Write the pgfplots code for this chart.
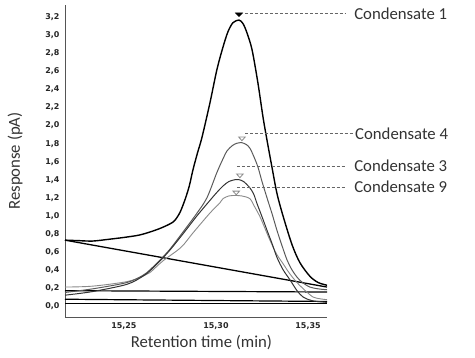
\documentclass[border=0pt]{standalone}
\usepackage{pgfplots}
\pgfplotsset{compat=1.18}
\usepackage{fontspec}
\setmainfont{Carlito}
\newfontfamily\tickfont{DejaVu Sans}
\definecolor{spine}{HTML}{555555}
\definecolor{cfour}{HTML}{5A5A5A}
\definecolor{cA}{HTML}{333333}
\definecolor{clight}{HTML}{8A8A8A}
\definecolor{leadc}{HTML}{666666}
\begin{document}
\begin{tikzpicture}
\path[use as bounding box] (-65bp,-41bp) rectangle (410bp,317bp);
\begin{axis}[
  scale only axis, width=262bp, height=312bp,
  xmin=15.218, xmax=15.3603, ymin=-0.122, ymax=3.337,
  axis x line*=bottom, axis y line*=left,
  axis line style={-, draw=spine, line width=1pt},
  major tick length=0pt,
  xtick={15.25,15.30,15.35},
  ytick={0,0.2,...,3.21},
  /pgf/number format/assume math mode=true,
  /pgf/number format/use comma,
  /pgf/number format/fixed,
  /pgf/number format/fixed zerofill,
  xticklabel style={/pgf/number format/precision=2, yshift=-2bp},
  yticklabel style={/pgf/number format/precision=1, xshift=-2bp},
  ticklabel style={font=\tickfont\bfseries\fontsize{8}{10}\selectfont, text=black!85},
  xlabel={Retention time (min)},
  ylabel={Response (pA)},
  label style={font=\fontsize{16.8}{19}\selectfont, text=black!80},
  xlabel style={at={(axis description cs:0.521,-0.0803)}, anchor=center},
  ylabel style={at={(axis description cs:-0.1908,0.5)}, anchor=center},
  clip=false,
]
% baselines
\addplot[black, line width=1.3pt] coordinates {(15.218,0.73) (15.3603,0.21)};
\addplot[black, line width=1.2pt] coordinates {(15.218,0.17) (15.3603,0.155)};
\addplot[black, line width=1.2pt] coordinates {(15.218,0.075) (15.3603,0.05)};
\addplot[black, line width=1.2pt] coordinates {(15.218,0.03) (15.3603,0.03)};
% light curve
\addplot[clight, line width=0.9pt, smooth] coordinates {
(15.218,0.21) (15.233,0.22) (15.2516,0.27) (15.2603,0.33) (15.2641,0.37) (15.2712,0.50) (15.281,0.65) (15.2875,0.81) (15.2967,1.03) (15.302,1.14) (15.3038,1.19) (15.307,1.22) (15.3103,1.225) (15.314,1.22) (15.3184,1.19) (15.321,1.10) (15.3239,0.99) (15.3266,0.86) (15.3293,0.73) (15.3328,0.58) (15.3364,0.47) (15.340,0.36) (15.344,0.26) (15.3485,0.17) (15.3527,0.10) (15.3565,0.08) (15.3603,0.07)};
% condensate 4
\addplot[cfour, line width=1pt, smooth] coordinates {
(15.218,0.15) (15.233,0.19) (15.2516,0.26) (15.2603,0.34) (15.2641,0.40) (15.2696,0.51) (15.275,0.63) (15.2821,0.82) (15.2897,1.03) (15.2951,1.20) (15.3005,1.48) (15.304,1.64) (15.306,1.72) (15.309,1.78) (15.3115,1.805) (15.3141,1.81) (15.3165,1.79) (15.3184,1.75) (15.3205,1.66) (15.3228,1.54) (15.325,1.38) (15.3277,1.20) (15.3305,1.02) (15.3331,0.84) (15.336,0.66) (15.3386,0.51) (15.341,0.41) (15.344,0.32) (15.347,0.26) (15.351,0.21) (15.3555,0.19) (15.3603,0.18)};
% dark curve
\addplot[cA, line width=1pt, smooth] coordinates {
(15.218,0.12) (15.233,0.16) (15.2516,0.24) (15.2603,0.33) (15.2641,0.39) (15.2696,0.50) (15.275,0.62) (15.2821,0.80) (15.2897,1.00) (15.2967,1.17) (15.3005,1.26) (15.3038,1.33) (15.307,1.38) (15.3103,1.40) (15.3125,1.40) (15.315,1.38) (15.3184,1.31) (15.3205,1.24) (15.3222,1.14) (15.325,0.99) (15.3277,0.84) (15.3305,0.69) (15.3331,0.54) (15.3365,0.40) (15.3402,0.29) (15.344,0.17) (15.3473,0.10) (15.352,0.06) (15.3603,0.04)};
% condensate 1
\addplot[black, line width=1.4pt, smooth] coordinates {
(15.218,0.73) (15.225,0.725) (15.233,0.72) (15.242,0.74) (15.250,0.76) (15.258,0.785) (15.2641,0.82) (15.2696,0.86) (15.275,0.91) (15.2777,0.95) (15.2805,1.04) (15.2832,1.18) (15.2855,1.33) (15.2875,1.51) (15.290,1.70) (15.2924,1.87) (15.2967,2.25) (15.3005,2.62) (15.3038,2.87) (15.3065,3.04) (15.3092,3.14) (15.3125,3.17) (15.3147,3.13) (15.3168,3.03) (15.3196,2.84) (15.3228,2.47) (15.3255,2.10) (15.3277,1.84) (15.3304,1.54) (15.3331,1.25) (15.3364,1.00) (15.3413,0.68) (15.3456,0.48) (15.351,0.33) (15.3555,0.26) (15.3603,0.23)};
% markers
\addplot[only marks, mark=triangle*, mark size=4.2pt, mark options={rotate=180, yscale=0.6, fill=black, draw=black}] coordinates {(15.3125,3.235)};
\addplot[only marks, mark=triangle, mark size=3.8pt, mark options={rotate=180, yscale=0.65, draw=clight, line width=0.8pt}] coordinates {(15.3141,1.86) (15.3130,1.45) (15.3110,1.26)};
% leader lines
\addplot[leadc, densely dashed, line width=0.6pt] coordinates {(15.3158,3.24) (15.370,3.24)};
\addplot[leadc, densely dashed, line width=0.6pt] coordinates {(15.3158,1.91) (15.3745,1.91)};
\addplot[leadc, densely dashed, line width=0.6pt] coordinates {(15.3114,1.55) (15.370,1.55)};
\addplot[leadc, densely dashed, line width=0.6pt] coordinates {(15.3114,1.32) (15.370,1.32)};
\node[anchor=west, inner sep=0pt, font=\fontsize{16.8}{19}\selectfont, text=black!80] at (axis cs:15.375,3.24) {Condensate 1};
\node[anchor=west, inner sep=0pt, font=\fontsize{16.8}{19}\selectfont, text=black!80] at (axis cs:15.3755,1.91) {Condensate 4};
\node[anchor=west, inner sep=0pt, font=\fontsize{16.8}{19}\selectfont, text=black!80] at (axis cs:15.375,1.55) {Condensate 3};
\node[anchor=west, inner sep=0pt, font=\fontsize{16.8}{19}\selectfont, text=black!80] at (axis cs:15.375,1.32) {Condensate 9};
\end{axis}
\end{tikzpicture}
\end{document}
